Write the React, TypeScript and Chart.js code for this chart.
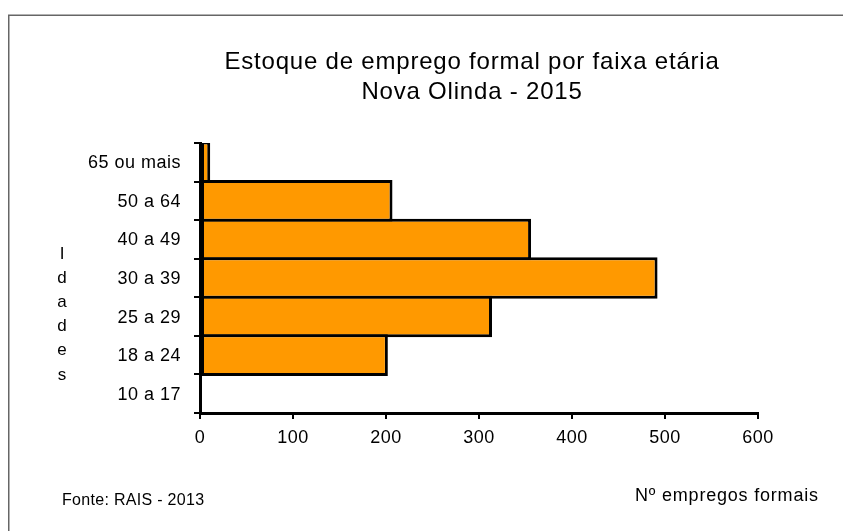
import React, { useEffect, useRef } from "react";
import { Chart, registerables } from "chart.js";

Chart.register(...registerables);

const ageGroups = ["65 ou mais", "50 a 64", "40 a 49", "30 a 39", "25 a 29", "18 a 24", "10 a 17"];
const employment = [11, 207, 356, 492, 314, 202, 0];
const xTicks = [0, 100, 200, 300, 400, 500, 600];
const titleLines = ["Estoque de emprego formal por faixa etária", "Nova Olinda - 2015"];
const yAxisLetters = ["I", "d", "a", "d", "e", "s"];
const sourceNote = "Fonte: RAIS - 2013";
const xAxisTitle = "Nº empregos formais";

const FONT = "'Liberation Sans', Arial, sans-serif";

const decorPlugin = {
  id: "decor",
  beforeDraw(chart: any) {
    const ctx = chart.ctx;
    ctx.save();
    ctx.fillStyle = "#ffffff";
    ctx.fillRect(0, 0, chart.width, chart.height);
    ctx.strokeStyle = "#666666";
    ctx.lineWidth = 1.5;
    ctx.strokeRect(0.75, 7.25, chart.width + 50, chart.height + 50);
    ctx.restore();
    ctx.letterSpacing = "0.5px";
  },
  afterDraw(chart: any) {
    const ctx = chart.ctx;
    ctx.save();
    ctx.fillStyle = "#000000";
    ctx.textBaseline = "middle";
    ctx.textAlign = "center";
    ctx.font = `24px ${FONT}`;
    ctx.letterSpacing = "0.8px";
    ctx.fillText(titleLines[0], 464, 54);
    ctx.fillText(titleLines[1], 464, 84);
    ctx.font = `17px ${FONT}`;
    ctx.letterSpacing = "0px";
    yAxisLetters.forEach((l, i) => ctx.fillText(l, 54, 246 + i * 24.2));
    ctx.textAlign = "left";
    ctx.font = `16px ${FONT}`;
    ctx.letterSpacing = "0.3px";
    ctx.fillText(sourceNote, 54, 493);
    ctx.font = `18px ${FONT}`;
    ctx.letterSpacing = "0.8px";
    ctx.fillText(xAxisTitle, 627, 488);
    ctx.restore();
  },
};

export default function App() {
  const ref = useRef<HTMLCanvasElement | null>(null);
  useEffect(() => {
    if (!ref.current) return;
    const chart = new Chart(ref.current, {
      type: "bar",
      data: {
        labels: ageGroups,
        datasets: [
          {
            data: employment,
            backgroundColor: "#ff9900",
            borderColor: "#000000",
            borderWidth: 3,
            borderSkipped: false,
            barPercentage: 1.078,
            categoryPercentage: 1,
          },
        ],
      },
      options: {
        indexAxis: "y",
        responsive: false,
        animation: false,
        devicePixelRatio: 1,
        layout: { padding: { left: 0, top: 135, right: 93, bottom: 0 } },
        plugins: { legend: { display: false }, title: { display: false }, tooltip: { enabled: false } },
        scales: {
          x: {
            min: 0,
            max: 600,
            afterBuildTicks: (s: any) => {
              s.ticks = xTicks.map((v) => ({ value: v }));
            },
            afterFit: (s: any) => {
              s.height = 118;
            },
            ticks: { color: "#000", font: { family: FONT, size: 18 }, padding: 8, maxRotation: 0 },
            grid: { drawOnChartArea: false, drawTicks: true, tickLength: 6, color: "#000", lineWidth: 2 },
            border: { color: "#000", width: 3 },
          },
          y: {
            afterFit: (s: any) => {
              s.width = 192;
            },
            ticks: { color: "#000", font: { family: FONT, size: 18 }, padding: 13, labelOffset: 1 },
            grid: { offset: true, drawOnChartArea: false, drawTicks: true, tickLength: 6, color: "#000", lineWidth: 2 },
            border: { color: "#000", width: 3 },
          },
        },
      },
      plugins: [decorPlugin],
    });
    return () => chart.destroy();
  }, []);
  return <canvas ref={ref} width={843} height={523} style={{ display: "block" }} />;
}
